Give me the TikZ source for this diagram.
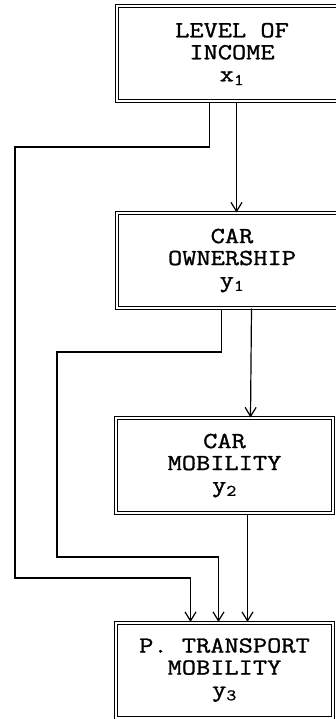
\documentclass[tikz,border=0pt]{standalone}
\usepackage{fontspec}
\setmonofont{Latin Modern Mono}[FakeStretch=1.2,FakeBold=1.2]
\usetikzlibrary{arrows.meta}

\begin{document}
\begin{tikzpicture}[x=1pt,y=-1pt,
  varbox/.style={draw,double,double distance=2pt,line width=1pt,minimum height=95pt,
    align=center,inner sep=0pt,font=\ttfamily\fontsize{23}{22}\selectfont},
  link/.style={line width=1.2pt},
  arr/.style={link,-{Straight Barb[length=9pt,width=11pt]}}]
\useasboundingbox (0,0) rectangle (335,719);
% variables
\node[varbox,minimum width=230pt] (income) at (232,54) {LEVEL OF\\INCOME\\x\textsubscript{1}};
\node[varbox,minimum width=230pt] (ownership) at (232,260.5) {CAR\\OWNERSHIP\\y\textsubscript{1}};
\node[varbox,minimum width=217pt] (carmob) at (224.5,465.5) {CAR\\MOBILITY\\y\textsubscript{2}};
\node[varbox,minimum width=217pt] (ptmob) at (224.5,670) {P. TRANSPORT\\MOBILITY\\y\textsubscript{3}};
% bends of the side links
\coordinate (incL) at (15,147);
\coordinate (incB) at (15,578);
\coordinate (ownL) at (57,352);
\coordinate (ownB) at (57,557);
% links
\draw[arr] ([xshift=120pt]income.south west) -- ([xshift=120pt]ownership.north west);
\draw[arr] ([xshift=135pt]ownership.south west) -- ([xshift=135pt]carmob.north west);
\draw[arr] ([xshift=132pt]carmob.south west) -- ([xshift=132pt]ptmob.north west);
\draw[arr] ([xshift=93pt]income.south west) |- (incL) -- (incB) -| ([xshift=75pt]ptmob.north west);
\draw[arr] ([xshift=105pt]ownership.south west) |- (ownL) -- (ownB) -| ([xshift=103pt]ptmob.north west);
\end{tikzpicture}
\end{document}
